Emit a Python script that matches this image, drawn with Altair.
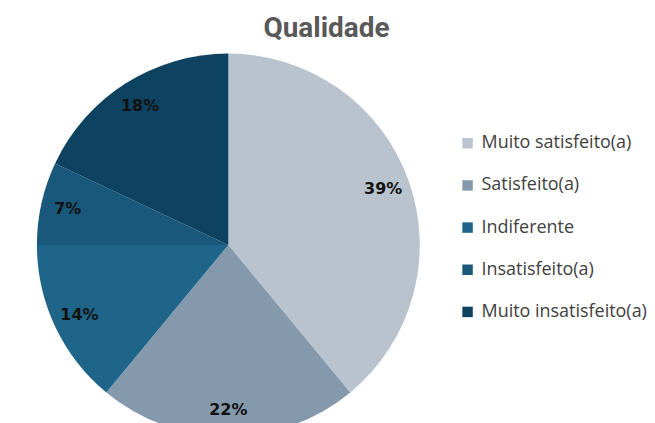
import altair as alt
import pandas as pd

categories = ["Muito satisfeito(a)", "Satisfeito(a)", "Indiferente", "Insatisfeito(a)", "Muito insatisfeito(a)"]
values = [39, 22, 14, 7, 18]
labels = ["39%", "22%", "14%", "7%", "18%"]
colors = ["#b8c3cd", "#8599ad", "#1f6489", "#1a587b", "#0d4260"]

df = pd.DataFrame({"cat": categories, "val": values, "lab": labels, "ord": list(range(len(values)))})

R = 192
CX, CY = 221, 195

base = alt.Chart(df).encode(
    theta=alt.Theta("val:Q", stack=True),
    order=alt.Order("ord:Q"),
)

pie = base.mark_arc(outerRadius=R, strokeWidth=0).encode(
    x=alt.value(CX),
    y=alt.value(CY),
    color=alt.Color(
        "cat:N",
        scale=alt.Scale(domain=categories, range=colors),
        sort=categories,
        legend=alt.Legend(
            title=None,
            orient="none",
            legendX=452,
            legendY=84,
            symbolType="square",
            symbolSize=110,
            symbolStrokeWidth=0,
            labelFontSize=18,
            labelFont="Open Sans",
            labelColor="#404040",
            rowPadding=24.3,
            labelOffset=5,
            labelLimit=300,
        ),
    ),
)

text = base.mark_text(
    radius=R * 0.86, font="DejaVu Sans", fontSize=16, fontWeight="bold", color="#111111"
).encode(
    x=alt.value(CX),
    y=alt.value(CY),
    text="lab:N",
)

chart = (
    alt.layer(pie, text)
    .properties(
        width=639,
        height=380,
        padding={"top": 6, "left": 0, "right": 0, "bottom": 0},
        title=alt.TitleParams(
            "Qualidade",
            fontSize=28,
            font="Roboto",
            fontWeight="bold",
            color="#595959",
            anchor="middle",
            offset=8,
        ),
    )
    .configure_view(stroke="transparent", strokeWidth=0)
)

chart.save("out.html", embed_options={"renderer": "svg", "actions": False})
